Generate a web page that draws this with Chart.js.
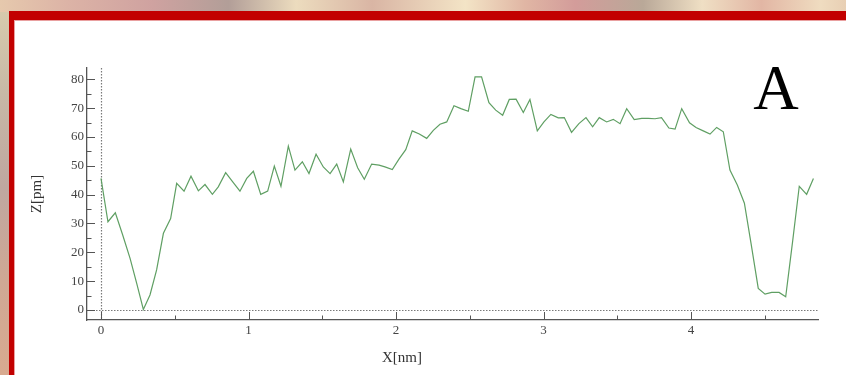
<!DOCTYPE html>
<html>
<head>
<meta charset="utf-8">
<script src="https://cdn.jsdelivr.net/npm/chart.js@4.4.1/dist/chart.umd.min.js"></script>
<style>
  html, body { margin: 0; padding: 0; }
  body {
    width: 846px; height: 375px; overflow: hidden; position: relative;
    background: linear-gradient(180deg, #d9cdae 0%, #c7b8a6 25%, #bfa7a0 50%, #cfa894 75%, #d8aa90 100%);
  }
  #band {
    position: absolute; left: 0; top: 0; width: 846px; height: 12px;
    background: linear-gradient(90deg, #e6c9ad 0%, #dcb3a6 8%, #cfa2a0 18%, #b29e98 27%, #ecdcbe 35%, #d9b5a4 44%,
      #f3e4c6 55%, #e0b6a4 62%, #d39c9a 68%, #b9a898 76%, #efdfc4 83%, #e2b6a4 90%, #efdcc0 97%, #e8cfb4 100%);
  }
  #panel {
    position: absolute; left: 9px; top: 11px; width: 900px; height: 400px;
    background: #fff; border-left: 5px solid #c20000; border-top: 9px solid #c20000;
    box-shadow: inset 1px 1px 0 #e9a0a0;
  }
  #chart { position: absolute; left: 0; top: 0; }
  #tag {
    position: absolute; left: 746px; top: 57px; width: 60px; text-align: center;
    font: 63px/63px "Liberation Serif", "DejaVu Serif", serif; color: #000;
  }
  #xtitle {
    position: absolute; left: 362px; top: 348px; width: 80px; text-align: center;
    font: 15px/18px "Liberation Serif", serif; color: #333;
  }
</style>
</head>
<body>
<div id="band"></div>
<div id="panel"></div>
<canvas id="chart" width="846" height="375"></canvas>
<div id="tag">A</div>
<div id="xtitle">X[nm]</div>
<script>
// Height profile along the scan line
const xNm = [0, 0.047, 0.097, 0.147, 0.197, 0.242, 0.287, 0.332, 0.377, 0.423, 0.472, 0.513, 0.563, 0.61, 0.66,
  0.705, 0.755, 0.795, 0.845, 0.893, 0.942, 0.988, 1.033, 1.083, 1.13, 1.175, 1.22, 1.27, 1.315, 1.365, 1.41,
  1.458, 1.507, 1.553, 1.598, 1.643, 1.693, 1.74, 1.785, 1.835, 1.885, 1.925, 1.975, 2.02, 2.066, 2.11, 2.158,
  2.208, 2.253, 2.298, 2.344, 2.393, 2.44, 2.49, 2.536, 2.58, 2.63, 2.676, 2.723, 2.768, 2.814, 2.863, 2.908,
  2.958, 3.003, 3.05, 3.1, 3.141, 3.19, 3.24, 3.288, 3.333, 3.378, 3.428, 3.473, 3.519, 3.564, 3.615, 3.666,
  3.71, 3.756, 3.8, 3.85, 3.892, 3.937, 3.99, 4.034, 4.083, 4.129, 4.174, 4.219, 4.264, 4.314, 4.362, 4.407,
  4.456, 4.502, 4.547, 4.597, 4.642, 4.69, 4.734, 4.784, 4.83];
const zPm = [45.6, 30.6, 33.7, 26, 17.9, 9.2, 0.2, 5.2, 13.9, 26.6, 31.7, 43.9, 41.2, 46.4, 41.3,
  43.5, 40.1, 42.7, 47.6, 44.4, 41.2, 45.6, 48.1, 40.1, 41.2, 49.9, 42.9, 56.8, 48.5, 51.4, 47.3,
  54.0, 49.6, 47.3, 50.6, 44.4, 55.8, 49.3, 45.3, 50.6, 50.2, 49.6, 48.7, 52.3, 55.6, 62.1, 61.0,
  59.5, 62.3, 64.4, 65.2, 70.8, 69.8, 68.9, 80.8, 80.8, 71.9, 69.3, 67.5, 73.0, 73.1, 68.5, 73.0,
  62.1, 65.2, 67.8, 66.6, 66.7, 61.6, 64.6, 66.7, 63.5, 66.7, 65.2, 66.1, 64.6, 69.8, 66.0, 66.4,
  66.4, 66.3, 66.7, 63.1, 62.7, 69.8, 64.9, 63.3, 62.1, 61.0, 63.3, 61.8, 48.5, 43.3, 37.0, 23.1,
  7.5, 5.5, 6.1, 6.1, 4.6, 24.2, 42.9, 40.1, 45.6];
const xTicks = [0, 1, 2, 3, 4];
const zTicks = [0, 10, 20, 30, 40, 50, 60, 70, 80];

const serif = '"Liberation Serif", "DejaVu Serif", serif';

// Dotted zero lines plus inward-pointing major/minor tick marks
const axisMarks = {
  id: 'axisMarks',
  beforeDatasetsDraw(chart) {
    const { ctx, chartArea: a, scales: { x, y } } = chart;
    const x0 = Math.round(x.getPixelForValue(0)) + 0.5;
    const y0 = Math.round(y.getPixelForValue(0)) + 0.5;
    ctx.save();
    ctx.strokeStyle = '#7a7a7a';
    ctx.lineWidth = 1.2;
    ctx.setLineDash([1.5, 1.5]);
    ctx.beginPath();
    ctx.moveTo(x0, a.top); ctx.lineTo(x0, a.bottom);
    ctx.moveTo(a.left, y0); ctx.lineTo(a.right, y0);
    ctx.stroke();
    ctx.restore();
  },
  afterDraw(chart) {
    const { ctx, chartArea: a, scales: { x, y } } = chart;
    ctx.save();
    ctx.strokeStyle = '#555';
    ctx.lineWidth = 1;
    ctx.beginPath();
    const yMinor = zTicks.map(v => v + 5).filter(v => v < y.max);
    const xMinor = xTicks.map(v => v + 0.5).filter(v => v < x.max);
    zTicks.forEach(v => { const p = Math.round(y.getPixelForValue(v)) + 0.5; ctx.moveTo(a.left, p); ctx.lineTo(a.left + 8, p); });
    yMinor.forEach(v => { const p = Math.round(y.getPixelForValue(v)) + 0.5; ctx.moveTo(a.left, p); ctx.lineTo(a.left + 4.5, p); });
    xTicks.forEach(v => { const p = Math.round(x.getPixelForValue(v)) + 0.5; ctx.moveTo(p, a.bottom); ctx.lineTo(p, a.bottom - 8); });
    xMinor.forEach(v => { const p = Math.round(x.getPixelForValue(v)) + 0.5; ctx.moveTo(p, a.bottom); ctx.lineTo(p, a.bottom - 4.5); });
    ctx.stroke();
    ctx.restore();
  }
};

new Chart(document.getElementById('chart'), {
  type: 'line',
  data: {
    datasets: [{
      data: xNm.map((v, i) => ({ x: v, y: zPm[i] })),
      borderColor: '#5f9f63',
      borderWidth: 1.2,
      pointRadius: 0,
      tension: 0,
      fill: false
    }]
  },
  options: {
    responsive: false,
    animation: false,
    events: [],
    layout: { padding: { left: 0, top: 68, right: 28, bottom: 0 } },
    plugins: { legend: { display: false }, tooltip: { enabled: false } },
    scales: {
      x: {
        type: 'linear', min: -0.095, max: 4.861,
        afterFit(s) { s.height = 55; },
        afterBuildTicks(s) { s.ticks = xTicks.map(v => ({ value: v })); },
        grid: { display: false, drawTicks: false },
        border: { display: true, color: '#555', width: 1.3 },
        ticks: { padding: 3, color: '#444', font: { family: serif, size: 13 }, maxRotation: 0, autoSkip: false },
        title: { display: false }
      },
      y: {
        type: 'linear', min: -3.47, max: 83.9,
        afterFit(s) { s.width = 87; },
        afterBuildTicks(s) { s.ticks = zTicks.map(v => ({ value: v })); },
        grid: { display: false, drawTicks: false },
        border: { display: true, color: '#555', width: 1.3 },
        ticks: { padding: 3, color: '#444', font: { family: serif, size: 13 }, autoSkip: false },
        title: {
          display: true, text: 'Z[pm]', color: '#333',
          font: { family: serif, size: 15 },
          padding: { top: 28, bottom: 0 }
        }
      }
    }
  },
  plugins: [axisMarks]
});
</script>
</body>
</html>
